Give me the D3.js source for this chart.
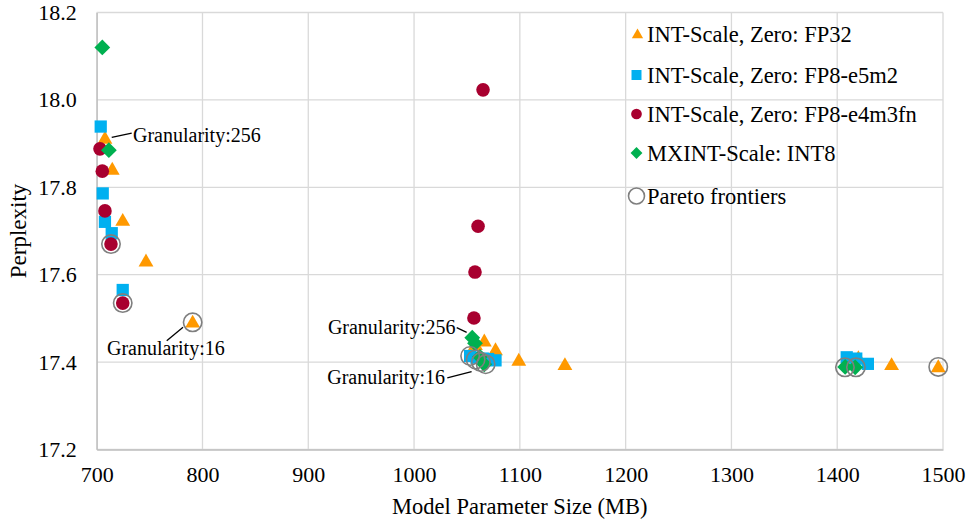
<!DOCTYPE html>
<html>
<head>
<meta charset="utf-8">
<script src="https://cdn.jsdelivr.net/npm/d3@7"></script>
<style>
  html, body { margin: 0; padding: 0; background: #fff; }
  svg { display: block; font-family: "Liberation Serif", "Times New Roman", serif; }
</style>
</head>
<body>
<svg id="chart" width="972" height="522"></svg>
<script>
// ---------------- data ----------------
const xTicks = [700, 800, 900, 1000, 1100, 1200, 1300, 1400, 1500];
const yTicks = [17.2, 17.4, 17.6, 17.8, 18.0, 18.2];

const seriesNames = [
  "INT-Scale, Zero: FP32",
  "INT-Scale, Zero: FP8-e5m2",
  "INT-Scale, Zero: FP8-e4m3fn",
  "MXINT-Scale: INT8",
  "Pareto frontiers"
];

// [model size MB, perplexity]
const fp32 = [
  [707.8, 17.912], [714.7, 17.841], [724.6, 17.724], [746.6, 17.631], [790.7, 17.491],
  [1058, 17.440], [1066.4, 17.448], [1077, 17.428], [1099, 17.404], [1142.6, 17.394],
  [1420, 17.410], [1451.4, 17.394], [1495.5, 17.389]
];
const e5m2 = [
  [703.8, 17.939], [705.7, 17.786], [707.8, 17.721], [714.2, 17.695], [724.6, 17.565],
  [1053, 17.414], [1059, 17.410], [1065, 17.408], [1070, 17.407], [1077, 17.404],
  [1409, 17.411], [1418, 17.408], [1429, 17.396]
];
const e4m3fn = [
  [703.1, 17.888], [705.3, 17.837], [707.8, 17.746], [713.5, 17.670], [724.6, 17.535],
  [1065.2, 18.023], [1060.5, 17.711], [1057.6, 17.606], [1056.6, 17.501]
];
const mxint8 = [
  [705.3, 18.120], [711.5, 17.885],
  [1055, 17.456], [1057.6, 17.443], [1062.3, 17.412], [1066.4, 17.395],
  [1407.5, 17.389], [1417, 17.388]
];
const pareto = [
  [713.5, 17.670], [724.6, 17.535], [790.7, 17.491],
  [1053, 17.414], [1058.2, 17.406], [1063.2, 17.400], [1067.7, 17.395],
  [1407.3, 17.388], [1417.7, 17.388], [1495.5, 17.389]
];

// annotations: text, text anchor point, leader line start/end (data units)
const annotations = [
  { text: "Granularity:256", at: [734.3, 17.920], anchor: "start", line: [[714.2, 17.914], [733.1, 17.924]] },
  { text: "Granularity:16",  at: [709.7, 17.432], anchor: "start", line: [[766.2, 17.449], [781.6, 17.480]] },
  { text: "Granularity:256", at: [1039.3, 17.481], anchor: "end", line: [[1040.3, 17.479], [1049.7, 17.468]] },
  { text: "Granularity:16",  at: [1029.2, 17.367], anchor: "end", line: [[1031.4, 17.364], [1054.4, 17.378]] }
];

// ---------------- layout ----------------
const plot = { left: 96.7, right: 943, top: 12.5, bottom: 449.5 };
const colors = ["#FF9900", "#00B0F0", "#A8002F", "#00B050"];
const paretoColor = "#7F7F7F";
const gridColor = "#D9D9D9";

const svg = d3.select("#chart");
const x = d3.scaleLinear().domain([700, 1500]).range([plot.left, plot.right]);
const y = d3.scaleLinear().domain([17.2, 18.2]).range([plot.bottom, plot.top]);

// grid lines
svg.append("g").selectAll("line").data(xTicks).join("line")
  .attr("x1", d => x(d)).attr("x2", d => x(d))
  .attr("y1", plot.top).attr("y2", plot.bottom)
  .attr("stroke", gridColor).attr("stroke-width", 1.3);
svg.append("g").selectAll("line").data(yTicks).join("line")
  .attr("x1", plot.left).attr("x2", plot.right)
  .attr("y1", d => y(d)).attr("y2", d => y(d))
  .attr("stroke", gridColor).attr("stroke-width", 1.3);

// axes
const xAxis = d3.axisBottom(x).tickValues(xTicks).tickFormat(d3.format("d")).tickSize(0).tickPadding(17);
const yAxis = d3.axisLeft(y).tickValues(yTicks).tickFormat(d3.format(".1f")).tickSize(0).tickPadding(20);

const gx = svg.append("g").attr("transform", `translate(0,${plot.bottom})`).call(xAxis);
const gy = svg.append("g").attr("transform", `translate(${plot.left},0)`).call(yAxis);
[gx, gy].forEach(g => {
  g.select(".domain").attr("stroke", "#BFBFBF").attr("stroke-width", 1.3);
  g.selectAll("text").attr("font-family", "Liberation Serif").attr("font-size", 22).attr("fill", "#000");
});

// axis titles
svg.append("text")
  .attr("x", (plot.left + plot.right) / 2).attr("y", 514)
  .attr("text-anchor", "middle").attr("font-size", 22.5).attr("fill", "#000")
  .text("Model Parameter Size (MB)");
svg.append("text")
  .attr("transform", `translate(26,${(plot.top + plot.bottom) / 2}) rotate(-90)`)
  .attr("text-anchor", "middle").attr("font-size", 23).attr("fill", "#000")
  .text("Perplexity");

// symbols
const triPath = d3.symbol(d3.symbolTriangle, 95)();
const sqPath = d3.symbol(d3.symbolSquare, 150)();
const circPath = d3.symbol(d3.symbolCircle, 145)();
const diaPath = d3.symbol(d3.symbolSquare, 125)();

function drawSeries(data, path, color, rot, dy) {
  svg.append("g").selectAll("path").data(data).join("path")
    .attr("d", path)
    .attr("transform", d => `translate(${x(d[0])},${y(d[1]) + (dy || 0)}) rotate(${rot || 0})`)
    .attr("fill", color);
}
drawSeries(fp32, triPath, colors[0], 0, 1);
drawSeries(e5m2, sqPath, colors[1]);
drawSeries(e4m3fn, circPath, colors[2]);
drawSeries(mxint8, diaPath, colors[3], 45);

svg.append("g").selectAll("circle").data(pareto).join("circle")
  .attr("cx", d => x(d[0])).attr("cy", d => y(d[1])).attr("r", 9.2)
  .attr("fill", "none").attr("stroke", paretoColor).attr("stroke-width", 1.6);

// annotations
const ann = svg.append("g");
annotations.forEach(a => {
  ann.append("line")
    .attr("x1", x(a.line[0][0])).attr("y1", y(a.line[0][1]))
    .attr("x2", x(a.line[1][0])).attr("y2", y(a.line[1][1]))
    .attr("stroke", "#000").attr("stroke-width", 1.3);
  ann.append("text")
    .attr("x", x(a.at[0])).attr("y", y(a.at[1])).attr("dy", "0.35em")
    .attr("text-anchor", a.anchor).attr("font-size", 20).attr("fill", "#000")
    .text(a.text);
});

// legend
const legendRows = [34, 75, 114, 153, 196];
const legendMarkX = 636.5, legendTextX = 647;
const lg = svg.append("g");
const legendPaths = [
  d3.symbol(d3.symbolTriangle, 55)(),
  d3.symbol(d3.symbolSquare, 100)(),
  d3.symbol(d3.symbolCircle, 90)(),
  d3.symbol(d3.symbolSquare, 70)()
];
seriesNames.forEach((name, i) => {
  const cy = legendRows[i];
  if (i < 4) {
    lg.append("path").attr("d", legendPaths[i])
      .attr("transform", `translate(${legendMarkX + (i === 0 ? 1 : 0)},${cy + (i === 0 ? 1 : 0)}) rotate(${i === 3 ? 45 : 0})`)
      .attr("fill", colors[i]);
  } else {
    lg.append("circle").attr("cx", legendMarkX).attr("cy", cy).attr("r", 8)
      .attr("fill", "none").attr("stroke", paretoColor).attr("stroke-width", 1.6);
  }
  lg.append("text").attr("x", legendTextX).attr("y", cy).attr("dy", "0.35em")
    .attr("font-size", 22.5).attr("fill", "#000").text(name);
});
</script>
</body>
</html>
